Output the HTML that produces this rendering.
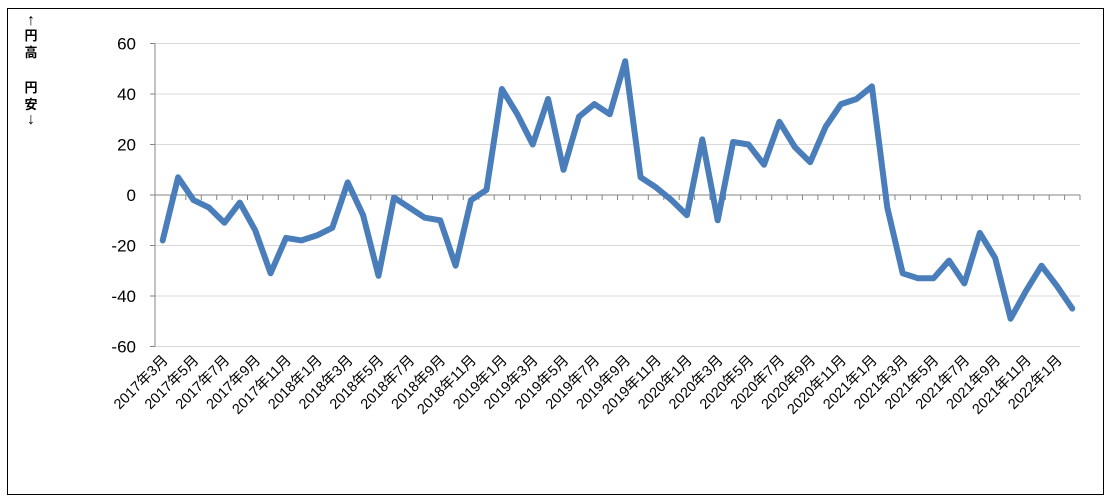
<!DOCTYPE html>
<html><head><meta charset="utf-8"><style>
body{margin:0;background:#fff;}
svg{display:block;font-family:"Liberation Sans","Noto Sans CJK JP",sans-serif;}
</style></head><body>
<svg id="c" width="1111" height="504" xmlns="http://www.w3.org/2000/svg">
<rect x="7.5" y="8.5" width="1096" height="486" fill="#fff" stroke="#000" stroke-width="1"/>
<g font-size="13" fill="#000" text-anchor="middle" font-weight="bold">
<text x="31" y="25" font-size="16">↑</text><text x="31" y="40">円</text><text x="31" y="57">高</text>
<text x="31" y="92">円</text><text x="31" y="109">安</text><text x="31" y="124" font-size="16">↓</text>
</g>
<g id="g"></g>
</svg>
<script>
var d=[-18,7,-2,-5,-11,-3,-14,-31,-17,-18,-16,-13,5,-8,-32,-1,-5,-9,-10,-28,-2,2,42,32,20,38,10,31,36,32,53,7,3,-2,-8,22,-10,21,20,12,29,19,13,27,36,38,43,-5,-31,-33,-33,-26,-35,-15,-25,-49,-38,-28,-36,-45];
var L=155,R=1080,n=60,w=(R-L)/n,y0=195,s=303/120;
function Y(v){return y0-v*s;}
var h='';
for(var v=-60;v<=60;v+=20){var y=Y(v).toFixed(1);
 if(v!==0)h+='<line x1="'+L+'" x2="'+R+'" y1="'+y+'" y2="'+y+'" stroke="#d9d9d9"/>';
 h+='<line x1="'+(L-5)+'" x2="'+L+'" y1="'+y+'" y2="'+y+'" stroke="#868686"/>';
 h+='<text x="136" y="'+(+y+6)+'" font-size="17" text-anchor="end">'+v+'</text>';}
h+='<line x1="'+L+'" x2="'+L+'" y1="'+Y(60)+'" y2="'+Y(-60)+'" stroke="#868686"/>';
h+='<line x1="'+L+'" x2="'+R+'" y1="'+y0+'" y2="'+y0+'" stroke="#868686"/>';
for(var i=0;i<=n;i++){var x=(L+i*w).toFixed(1);h+='<line x1="'+x+'" x2="'+x+'" y1="'+y0+'" y2="'+(y0+5)+'" stroke="#868686"/>';}
var p=d.map(function(v,i){return (L+(i+0.5)*w).toFixed(1)+','+Y(v).toFixed(1);}).join(' ');
h+='<polyline points="'+p+'" fill="none" stroke="#4a7ebb" stroke-width="6" stroke-linejoin="round" stroke-linecap="round"/>';
for(var i=0;i<n;i+=2){var yr=2017+Math.floor((i+2)/12),m=(i+2)%12+1;var x=L+(i+0.5)*w+6;
 h+='<text font-size="14.5" text-anchor="end" transform="translate('+x.toFixed(1)+',361) rotate(-45)">'+yr+'年'+m+'月</text>';}
document.getElementById('g').innerHTML=h;
</script>
</body></html>
